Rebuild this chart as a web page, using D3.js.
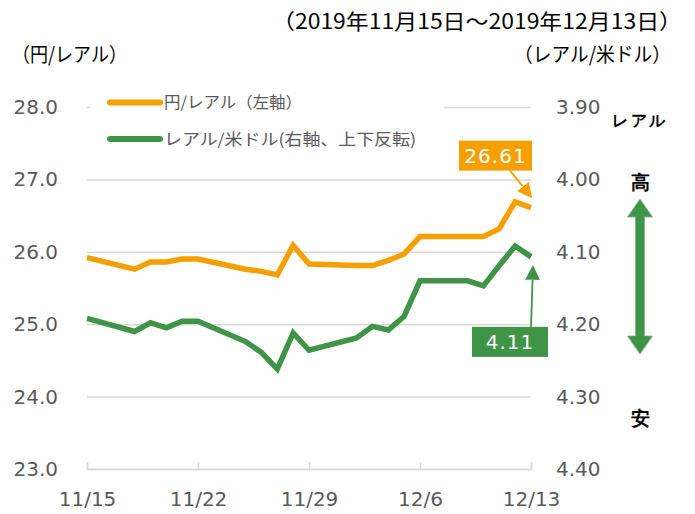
<!DOCTYPE html>
<html lang='ja'>
<head>
  <meta charset='UTF-8'>
  <title>円/レアル</title>
  <style>
    * { margin: 0; padding: 0; }
    body { background: #fff; }
    #chart { width: 695px; height: 514px; }
    text { font-family: 'DejaVu Sans', Verdana, sans-serif; }
    .jp { font-family: 'Noto Sans CJK JP', sans-serif; }
  </style>
</head>
<body>
<div id='chart'></div>
<script src='https://cdn.jsdelivr.net/npm/d3@7'></script>
<script>
  // 営業日
  const dates = ['2019-11-15', '2019-11-18', '2019-11-19', '2019-11-20', '2019-11-21', '2019-11-22',
    '2019-11-25', '2019-11-26', '2019-11-27', '2019-11-28', '2019-11-29',
    '2019-12-02', '2019-12-03', '2019-12-04', '2019-12-05', '2019-12-06',
    '2019-12-09', '2019-12-10', '2019-12-11', '2019-12-12', '2019-12-13']
  // 円/レアル（左軸）
  const yenReal = [25.92, 25.76, 25.86, 25.86, 25.90, 25.90, 25.76, 25.73, 25.68, 26.09, 25.83,
    25.81, 25.81, 25.88, 25.97, 26.21, 26.21, 26.21, 26.32, 26.69, 26.61]
  // レアル/米ドル（右軸、上下反転）
  const realUsd = [4.192, 4.210, 4.198, 4.205, 4.196, 4.196, 4.224, 4.239, 4.262, 4.212, 4.236,
    4.219, 4.203, 4.208, 4.189, 4.140, 4.140, 4.147, 4.119, 4.092, 4.107]
  const xTicks = ['2019-11-15', '2019-11-22', '2019-11-29', '2019-12-06', '2019-12-13']
  const xTickLabels = ['11/15', '11/22', '11/29', '12/6', '12/13']
  const leftTicks = [23, 24, 25, 26, 27, 28]
  const rightTicks = [3.9, 4.0, 4.1, 4.2, 4.3, 4.4]
  const seriesNames = ['円/レアル（左軸）', 'レアル/米ドル(右軸、上下反転)']
  const lastLabels = ['26.61', '4.11']

  const ORANGE = '#F5A000'
  const GREEN = '#3F9447'
  const GRID = '#d9d9d9'
  const TXT = '#595959'

  let margin = {top: 107, left: 87}
  let width = 444
  let height = 362

  let parse = d3.timeParse('%Y-%m-%d')

  let svg = d3.select('#chart')
  .append('svg')
  .attr('xmlns', 'http://www.w3.org/2000/svg')
  .attr('width', 695)
  .attr('height', 514)

  svg.append('rect').attr('width', 695).attr('height', 514).attr('fill', '#fff')

  let chart = svg.append('g')
  .attr('transform', 'translate(' + margin.left + ',' + margin.top + ')')

  let x = d3.scaleTime()
  .domain([parse(dates[0]), parse(dates[dates.length - 1])])
  .range([0, width])
  let yL = d3.scaleLinear().domain([23, 28]).range([height, 0])
  let yR = d3.scaleLinear().domain([4.4, 3.9]).range([height, 0])

  // 左軸 + グリッド
  let gl = chart.append('g')
  .call(d3.axisLeft(yL).tickValues(leftTicks).tickSize(-width).tickPadding(29).tickFormat(d3.format('.1f')))
  gl.select('.domain').remove()
  gl.selectAll('line').attr('stroke', GRID).attr('stroke-width', 1.5)
  gl.selectAll('text').attr('fill', TXT).style('font-size', '20px')

  // 右軸
  let gr = chart.append('g')
  .attr('transform', 'translate(' + width + ',0)')
  .call(d3.axisRight(yR).tickValues(rightTicks).tickSize(0).tickPadding(25).tickFormat(d3.format('.2f')))
  gr.select('.domain').remove()
  gr.selectAll('text').attr('fill', TXT).style('font-size', '20px')

  // x軸
  let gx = chart.append('g')
  .attr('transform', 'translate(0,' + height + ')')
  .call(d3.axisBottom(x).tickValues(xTicks.map(parse)).tickSize(-7).tickPadding(23)
    .tickFormat((d, i) => xTickLabels[i]))
  gx.selectAll('line, path').attr('stroke', GRID).attr('stroke-width', 1.5)
  gx.selectAll('text').attr('fill', TXT).style('font-size', '20px')

  // 凡例
  let legend = svg.append('g')
  legend.append('rect').attr('x', 90).attr('y', 86).attr('width', 354).attr('height', 70).attr('fill', '#fff')
  ;[ORANGE, GREEN].forEach((c, i) => {
    let ly = 102.5 + i * 36.5
    legend.append('line').attr('x1', 110).attr('x2', 160).attr('y1', ly).attr('y2', ly)
    .attr('stroke', c).attr('stroke-width', 6).attr('stroke-linecap', 'round')
    legend.append('text').attr('class', 'jp').attr('x', 164).attr('y', ly).attr('dy', '0.35em')
    .attr('fill', TXT).style('font-size', '16px')
    .attr('textLength', i ? 252 : 138).attr('lengthAdjust', 'spacingAndGlyphs')
    .text(seriesNames[i])
  })

  // 線
  let lineL = d3.line().x((d, i) => x(parse(dates[i]))).y(d => yL(d))
  let lineR = d3.line().x((d, i) => x(parse(dates[i]))).y(d => yR(d))
  chart.append('path').datum(yenReal).attr('d', lineL)
  .attr('fill', 'none').attr('stroke', ORANGE).attr('stroke-width', 5.5)
  chart.append('path').datum(realUsd).attr('d', lineR)
  .attr('fill', 'none').attr('stroke', GREEN).attr('stroke-width', 5.5)

  // 矢印マーカー
  let defs = svg.append('defs')
  ;[['ah-o', ORANGE], ['ah-g', GREEN]].forEach(([id, c]) => {
    defs.append('marker').attr('id', id).attr('viewBox', '0 0 10 10')
    .attr('refX', 8).attr('refY', 5).attr('markerUnits', 'userSpaceOnUse')
    .attr('markerWidth', 17).attr('markerHeight', 17).attr('orient', 'auto')
    .append('path').attr('d', 'M0,0L10,5L0,10Z').attr('fill', c).attr('stroke', '#fff').attr('stroke-width', 0.8)
  })

  // 最終値ラベル
  let lastX = x(parse(dates[dates.length - 1]))
  let lastYL = yL(yenReal[yenReal.length - 1])
  let lastYR = yR(realUsd[realUsd.length - 1])

  let bo = chart.append('g')
  bo.append('line').attr('x1', lastX - 21).attr('y1', lastYL - 37).attr('x2', lastX).attr('y2', lastYL - 11)
  .attr('stroke', ORANGE).attr('stroke-width', 1.8).attr('marker-end', 'url(#ah-o)')
  bo.append('rect').attr('x', lastX - 72).attr('y', lastYL - 67).attr('width', 73).attr('height', 30).attr('fill', ORANGE)
  bo.append('text').attr('x', lastX - 35.5).attr('y', lastYL - 52).attr('dy', '0.36em')
  .attr('text-anchor', 'middle').attr('fill', '#fff').style('font-size', '20px').style('letter-spacing', '1px')
  .text(lastLabels[0])

  let bg = chart.append('g')
  bg.append('line').attr('x1', lastX).attr('y1', lastYR + 70).attr('x2', lastX + 2).attr('y2', lastYR + 10)
  .attr('stroke', GREEN).attr('stroke-width', 1.8).attr('marker-end', 'url(#ah-g)')
  bg.append('rect').attr('x', lastX - 59).attr('y', lastYR + 70).attr('width', 76).attr('height', 30).attr('fill', GREEN)
  bg.append('text').attr('x', lastX - 21).attr('y', lastYR + 85).attr('dy', '0.36em')
  .attr('text-anchor', 'middle').attr('fill', '#fff').style('font-size', '20px').style('letter-spacing', '1px')
  .text(lastLabels[1])

  // タイトル類
  svg.append('text').attr('class', 'jp').attr('x', 682).attr('y', 21).attr('dy', '0.36em')
  .attr('text-anchor', 'end').attr('fill', '#000').style('font-size', '21px')
  .attr('textLength', 410).attr('lengthAdjust', 'spacingAndGlyphs')
  .text('（2019年11月15日～2019年12月13日）')
  svg.append('text').attr('class', 'jp').attr('x', 12).attr('y', 55).attr('dy', '0.36em')
  .attr('fill', '#000').style('font-size', '20px')
  .attr('textLength', 115).attr('lengthAdjust', 'spacingAndGlyphs')
  .text('（円/レアル）')
  svg.append('text').attr('class', 'jp').attr('x', 671).attr('y', 55).attr('dy', '0.36em')
  .attr('text-anchor', 'end').attr('fill', '#000').style('font-size', '20px')
  .attr('textLength', 157).attr('lengthAdjust', 'spacingAndGlyphs')
  .text('（レアル/米ドル）')

  // 右側 高/安
  let side = svg.append('g').attr('class', 'jp')
  side.append('text').attr('x', 612).attr('y', 120).attr('dy', '0.36em')
  .attr('fill', '#000').style('font-size', '16px').style('font-weight', 'bold')
  .attr('textLength', 53).attr('lengthAdjust', 'spacing').text('レアル')
  side.append('text').attr('x', 640).attr('y', 182).attr('dy', '0.36em').attr('text-anchor', 'middle')
  .attr('fill', '#000').style('font-size', '19px').style('font-weight', 'bold').text('高')
  side.append('text').attr('x', 640).attr('y', 418).attr('dy', '0.36em').attr('text-anchor', 'middle')
  .attr('fill', '#000').style('font-size', '19px').style('font-weight', 'bold').text('安')

  // 両矢印
  let ax = 640, aTop = 199, aBot = 354, hw = 12.5, sw = 4.5, hl = 18
  svg.append('path')
  .attr('d', [
    'M', ax, aTop, 'L', ax + hw, aTop + hl, 'L', ax + sw, aTop + hl, 'L', ax + sw, aBot - hl,
    'L', ax + hw, aBot - hl, 'L', ax, aBot, 'L', ax - hw, aBot - hl, 'L', ax - sw, aBot - hl,
    'L', ax - sw, aTop + hl, 'L', ax - hw, aTop + hl, 'Z'].join(' '))
  .attr('fill', GREEN).attr('stroke', '#7fb887').attr('stroke-width', 0.8)
</script>
</body>
</html>
